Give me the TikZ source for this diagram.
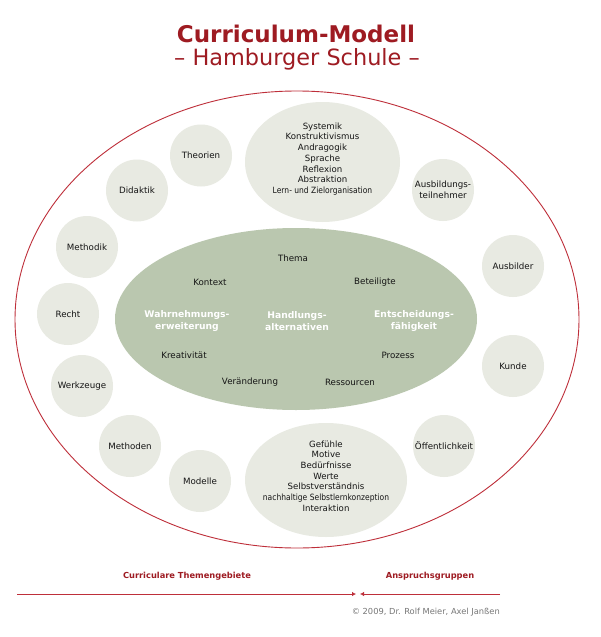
\documentclass[tikz,border=0pt]{standalone}
\usepackage{fontspec}
\setmainfont{DejaVu Sans}
\newfontfamily\condfont[FakeStretch=0.88]{DejaVu Sans}
\usetikzlibrary{arrows.meta}
\definecolor{circlegray}{HTML}{E8EAE2}
\definecolor{sage}{HTML}{BAC7AF}
\definecolor{titlered}{HTML}{9E1B22}
\definecolor{linered}{HTML}{BE2F3A}
\definecolor{textdark}{HTML}{151515}
\definecolor{copygray}{HTML}{777777}
\tikzset{
  smallcircle/.style={circle, fill=circlegray, minimum size=62pt, inner sep=0pt, align=center,
    text=textdark, font=\fontsize{8.7}{10.7}\selectfont},
  word/.style={text=textdark, font=\fontsize{8.7}{10.5}\selectfont, inner sep=0pt},
  keyword/.style={text=white, font=\bfseries\fontsize{9.2}{12.3}\selectfont, align=center, inner sep=0pt},
  oval list/.style={text=textdark, font=\fontsize{8.6}{10.7}\selectfont, align=center, inner sep=0pt},
  bottomlabel/.style={text=titlered, font=\bfseries\fontsize{8.3}{10}\selectfont, inner sep=0pt},
  redline/.style={draw=linered, line width=0.9pt},
}
\begin{document}
\begin{tikzpicture}[x=1pt,y=-1pt]
\useasboundingbox (0,0) rectangle (600,637);
\fill[white] (0,0) rectangle (600,637);
% title
\node[text=titlered, font=\bfseries\fontsize{23}{26}\selectfont, inner sep=0pt] (title) at (296,34.3) {Curriculum-Modell};
\node[text=titlered, font=\fontsize{22.4}{26}\selectfont, inner sep=0pt] (subtitle) at (297,59) {– Hamburger Schule –};
% outer ellipse
\draw[redline] (297,319.5) ellipse [x radius=282, y radius=228.5];
% inner green ellipse
\fill[sage] (296,319) ellipse [x radius=181, y radius=91];
% top and bottom ovals
\fill[circlegray] (322.5,162) ellipse [x radius=77.5, y radius=60];
\fill[circlegray] (326,480) ellipse [x radius=81, y radius=57];
\node[oval list] (topoval) at (322.5,159) {Systemik\\Konstruktivismus\\Andragogik\\Sprache\\Reflexion\\Abstraktion\\{\condfont Lern- und Zielorganisation}};
\node[oval list] (bottomoval) at (326,476) {Gefühle\\Motive\\Bedürfnisse\\Werte\\Selbstverständnis\\{\condfont nachhaltige Selbstlernkonzeption}\\Interaktion};
% small circles left
\node[smallcircle] (theorien) at (201,155.5) {Theorien};
\node[smallcircle] (didaktik) at (137,190.5) {Didaktik};
\node[smallcircle] (methodik) at (87,247) {Methodik};
\node[smallcircle] (recht) at (68,314) {Recht};
\node[smallcircle] (werkzeuge) at (82,386) {Werkzeuge};
\node[smallcircle] (methoden) at (130,446) {Methoden};
\node[smallcircle] (modelle) at (200,481) {Modelle};
% small circles right
\node[smallcircle] (teilnehmer) at (443,190) {Ausbildungs-\\teilnehmer};
\node[smallcircle] (ausbilder) at (513,266) {Ausbilder};
\node[smallcircle] (kunde) at (513,366) {Kunde};
\node[smallcircle] (oeffentlich) at (444,446) {Öffentlichkeit};
% words in green ellipse
\node[word] (thema) at (293,258) {Thema};
\node[word] (kontext) at (210,282) {Kontext};
\node[word] (beteiligte) at (375,282) {Beteiligte};
\node[keyword] (wahrnehmung) at (187,321) {Wahrnehmungs-\\erweiterung};
\node[keyword] (handlung) at (297,321) {Handlungs-\\alternativen};
\node[keyword] (entscheidung) at (414,321) {Entscheidungs-\\fähigkeit};
\node[word] (kreativ) at (184,355) {Kreativität};
\node[word] (prozess) at (398,355) {Prozess};
\node[word] (veraenderung) at (250,382) {Veränderung};
\node[word] (ressourcen) at (350,382) {Ressourcen};
% bottom labels and arrows
\node[bottomlabel] (curricular) at (187,576) {Curriculare Themengebiete};
\node[bottomlabel] (anspruch) at (430,576) {Anspruchsgruppen};
\coordinate (lstart) at (17,594);
\coordinate (lend) at (356,594);
\coordinate (rstart) at (500,594);
\coordinate (rend) at (360,594);
\draw[draw=linered, line width=0.8pt, -{Latex[length=4pt,width=4.5pt]}] (lstart) -- (lend);
\draw[draw=linered, line width=0.8pt, -{Latex[length=4pt,width=4.5pt]}] (rstart) -- (rend);
\node[text=copygray, font=\fontsize{8.3}{10}\selectfont, anchor=east, inner sep=0pt] (copy) at (500,612) {© 2009, Dr. Rolf Meier, Axel Janßen};
\end{tikzpicture}
\end{document}
